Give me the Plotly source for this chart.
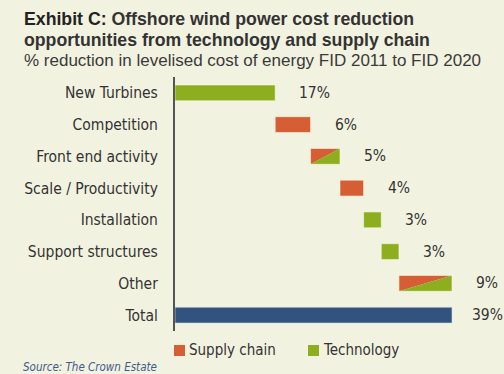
import plotly.graph_objects as go
import numpy as np

# Cost reduction steps, FID 2011 -> FID 2020 (% of levelised cost of energy)
categories = ["New Turbines", "Competition", "Front end activity", "Scale / Productivity",
              "Installation", "Support structures", "Other", "Total"]
reductions = [17, 6, 5, 4, 3, 3, 9]
sources = ["Technology", "Supply chain", "Mixed", "Supply chain",
           "Technology", "Technology", "Mixed"]

BG = "#F2F2E0"
GREEN = "#8DAF1F"
ORANGE = "#D65E34"
BLUE = "#32527F"
TEXT = "#333333"
LABEL_FONT = "Liberation Sans Narrow, Arial Narrow, DejaVu Sans Condensed, sans-serif"

steps = np.array(reductions, dtype=float)
bases = np.concatenate([[0], np.cumsum(steps)[:-1]])
total_len = steps.sum()
# reductions compound on the remaining cost
total_pct = round(100 * (1 - np.prod(1 - steps / 100)))

H = 0.5  # bar thickness in row units
fig = go.Figure()

colour_of = {"Technology": GREEN, "Supply chain": ORANGE}
for i, (b, v, s) in enumerate(zip(bases, steps, sources)):
    if s in colour_of:
        fig.add_trace(go.Bar(
            y=[i], x=[v], base=[b], orientation="h", width=H,
            marker=dict(color=colour_of[s], line=dict(color="rgba(255,255,230,0.55)", width=1)),
            showlegend=False, hoverinfo="skip"))
    else:
        top, bot = i - H / 2, i + H / 2
        # supply chain share: upper-left triangle
        fig.add_trace(go.Scatter(
            x=[b, b, b + v, b], y=[bot, top, top, bot], mode="lines",
            fill="toself", fillcolor=ORANGE, line=dict(width=0),
            showlegend=False, hoverinfo="skip"))
        # technology share: lower-right triangle
        fig.add_trace(go.Scatter(
            x=[b, b + v, b + v, b], y=[bot, top, bot, bot], mode="lines",
            fill="toself", fillcolor=GREEN, line=dict(width=0),
            showlegend=False, hoverinfo="skip"))
        fig.add_trace(go.Scatter(
            x=[b, b, b + v, b + v, b], y=[bot, top, top, bot, bot], mode="lines",
            line=dict(color="rgba(255,255,230,0.55)", width=1),
            showlegend=False, hoverinfo="skip"))

# total bar
fig.add_trace(go.Bar(
    y=[len(categories) - 1], x=[total_len], base=[0], orientation="h", width=H,
    marker=dict(color=BLUE, line=dict(color="rgba(220,225,235,0.6)", width=1)),
    showlegend=False, hoverinfo="skip"))

# value labels
ends = list(bases + steps) + [total_len]
labels = [f"{int(v)}%" for v in steps] + [f"{total_pct}%"]
for i, (e, t) in enumerate(zip(ends, labels)):
    fig.add_annotation(x=e, y=i, xref="x", yref="y", text=t, showarrow=False,
                       xanchor="left", xshift=22 if i < 7 else 18,
                       font=dict(family=LABEL_FONT, size=15.5, color=TEXT))

PLOT_L, PLOT_W, PLOT_T, PLOT_H = 175, 324, 77, 254
def px(x):
    return (x - PLOT_L) / PLOT_W
def py(y):
    return (PLOT_T + PLOT_H - y) / PLOT_H

# title block
title_lines = [
    ("<b><span style='color:#222222'>Exhibit C:</span> Offshore wind power cost reduction</b>", 19, 17.7, "#333333"),
    ("<b>opportunities from technology and supply chain</b>", 40, 17.7, "#333333"),
    ("% reduction in levelised cost of energy FID 2011 to FID 2020", 61, 17, "#3a3a3a"),
]
for txt, ypix, sz, col in title_lines:
    fig.add_annotation(x=px(22), y=py(ypix), xref="paper", yref="paper",
                       text=txt, showarrow=False, xanchor="left", yanchor="middle",
                       font=dict(family="Liberation Sans Narrow, Arial Narrow, sans-serif",
                                 size=sz, color=col))

# legend
for x0, col, name in [(174, ORANGE, "Supply chain"), (308, GREEN, "Technology")]:
    fig.add_shape(type="rect", xref="paper", yref="paper",
                  x0=px(x0), x1=px(x0 + 11), y0=py(356), y1=py(345),
                  fillcolor=col, line=dict(width=0))
    fig.add_annotation(x=px(x0 + 13), y=py(350), xref="paper", yref="paper",
                       text=name, showarrow=False, xanchor="left", yanchor="middle",
                       font=dict(family=LABEL_FONT, size=15, color=TEXT))

fig.add_annotation(x=px(21), y=py(367), xref="paper", yref="paper",
                   text="<i>Source: The Crown Estate</i>", showarrow=False,
                   xanchor="left", yanchor="middle",
                   font=dict(family=LABEL_FONT, size=11.5, color="#3D5C8E"))

fig.update_layout(
    width=504, height=374,
    margin=dict(l=PLOT_L, r=504 - PLOT_L - PLOT_W, t=PLOT_T, b=374 - PLOT_T - PLOT_H, pad=0),
    paper_bgcolor=BG, plot_bgcolor=BG,
    barmode="overlay",
    xaxis=dict(range=[0, PLOT_W / (277 / total_len)], visible=False, fixedrange=True),
    yaxis=dict(range=[len(categories) - 0.5, -0.5], tickmode="array",
               tickvals=list(range(len(categories))), ticktext=categories,
               showline=True, linecolor="#555555", linewidth=2, ticks="",
               showgrid=False, zeroline=False, ticklabelstandoff=12,
               tickfont=dict(family=LABEL_FONT, size=15.5, color=TEXT)),
)

fig.write_html("out.html")
